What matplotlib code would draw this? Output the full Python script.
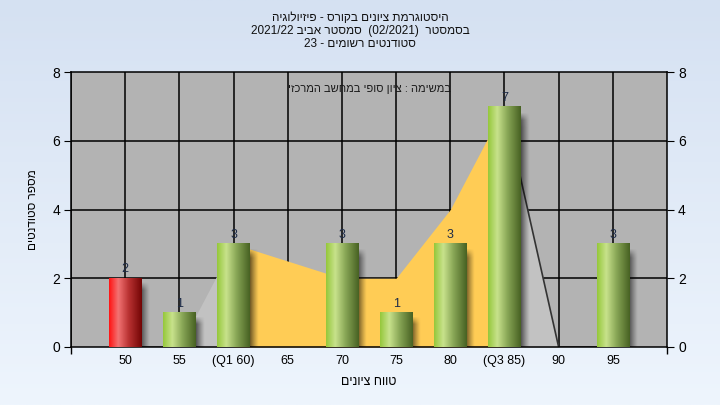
import re
import numpy as np
import matplotlib
matplotlib.use("Agg")
import matplotlib.pyplot as plt

# ---------------- data ----------------
categories = ["50", "55", "(Q1 60)", "65", "70", "75", "80", "(Q3 85)", "90", "95"]
counts = [2, 1, 3, 0, 3, 1, 3, 7, 0, 3]
curve = [0, 0, 3, 2.5, 2, 2, 4, 7, 0, 0]          # background area series
fail_flags = [True, False, False, False, False, False, False, False, False, False]
yticks = [0, 2, 4, 6, 8]

title_lines = ["היסטוגרמת ציונים בקורס - פיזיולוגיה",
               "בסמסטר  (02/2021)  סמסטר אביב 2021/22",
               "סטודנטים רשומים - 23"]
note_text = "במשימה : ציון סופי במחשב המרכזי"
xlabel_text = "טווח ציונים"
ylabel_text = "מספר סטודנטים"

FONT = ["Liberation Sans", "DejaVu Sans"]
plt.rcParams["font.family"] = FONT


def vis(s):
    """simple visual-order conversion for RTL text"""
    r = s[::-1]
    r = re.sub(r"[0-9A-Za-z/.:]+", lambda m: m.group(0)[::-1], r)
    r = r.translate(str.maketrans("()", ")("))
    return r


W, H = 720, 405
fig = plt.figure(figsize=(W / 100, H / 100), dpi=100)

# figure background gradient
bg = fig.add_axes([0, 0, 1, 1], zorder=-10)
top = np.array([213, 225, 242]) / 255
bot = np.array([238, 245, 253]) / 255
t = np.linspace(0, 1, 256)[:, None]
grad = top[None, :] * (1 - t) + bot[None, :] * t
bg.imshow(grad[:, None, :].repeat(2, axis=1), aspect="auto", extent=(0, 1, 0, 1))
bg.set_axis_off()

ax = fig.add_axes([71 / W, 1 - 347 / H, (667 - 71) / W, (347 - 72) / H])
ax.set_facecolor("#b3b3b3")
n = len(categories)
x = np.arange(n)

# grid
for gx in range(-1, n):
    ax.axvline(gx, color="black", lw=1.1, zorder=0.5)
for gy in yticks[1:-1]:
    ax.axhline(gy, color="black", lw=1.1, zorder=0.5)

# background area
cv = np.array(curve, dtype=float)
ax.fill_between(x[1:3], cv[1:3], 0, color="#c2c2c2", lw=0, zorder=1)
ax.fill_between(x[2:8], cv[2:8], 0, color="#ffcc55", lw=0, zorder=1)
ax.fill_between(x[7:9], cv[7:9], 0, color="#c2c2c2", lw=0, zorder=1)
ax.plot(x[7:10], cv[7:10], color="#333333", lw=1.2, zorder=1.5)
ax.plot(x[0:2], cv[0:2], color="#555555", lw=1.2, zorder=1.5)

# bars with gradients and shadows
w = 0.6
stops = np.array([0, 0.28, 0.6, 1.0])
green = np.array([[150, 200, 60], [200, 226, 140], [135, 165, 85], [72, 98, 35]]) / 255
red = np.array([[255, 20, 20], [242, 115, 115], [185, 50, 50], [115, 5, 5]]) / 255
u = np.linspace(0, 1, 64)


def gradient(cols):
    return np.stack([np.interp(u, stops, cols[:, k]) for k in range(3)], axis=-1)[None, :, :]


ggrad = gradient(green)
rgrad = gradient(red)

for xi, h, bad in zip(x, counts, fail_flags):
    if h <= 0:
        continue
    # shadow
    sw = 0.16
    su = np.linspace(0, 1, 32)
    sv = np.linspace(0, 1, 32)[:, None]
    vfade = np.clip(sv / max(0.001, 0.25 / h), 0, 1)
    alpha = 0.65 * (1 - su[None, :]) ** 1.2 * vfade
    sh = np.zeros((32, 32, 4))
    sh[..., 3] = alpha
    ax.imshow(sh, extent=(xi + w / 2 - 0.02, xi + w / 2 + sw, 0, h - 0.1), aspect="auto",
              zorder=2, interpolation="bilinear", origin="upper")
    img = rgrad if bad else ggrad
    ax.imshow(img, extent=(xi - w / 2, xi + w / 2, 0, h), aspect="auto", zorder=3,
              interpolation="bilinear")
    ax.text(xi, h + 0.08, str(h), ha="center", va="bottom", fontsize=9,
            color="#1e2c48", zorder=4)

ax.set_xlim(-1, n)
ax.set_ylim(0, 8)
ax.set_xticks(x)
ax.set_xticklabels(categories, fontsize=9)
ax.set_xticks([-1, n], minor=True)
ax.tick_params(axis="x", which="major", length=0, pad=6)
ax.tick_params(axis="x", which="minor", length=5, direction="out", width=1)
ax.set_yticks(yticks)
ax.tick_params(axis="y", which="major", length=5, direction="out", labelsize=10,
               left=True, right=True, labelleft=True, labelright=True, pad=3)
for sp in ax.spines.values():
    sp.set_color("black")
    sp.set_linewidth(1.1)

ax.text(0.5, 0.955, vis(note_text), transform=ax.transAxes, ha="center", va="top",
        fontsize=8, color="#1a1a1a", zorder=5)

ax.set_xlabel(vis(xlabel_text), fontsize=9, labelpad=6)
fig.text(33 / W, 1 - 210 / H, vis(ylabel_text), rotation=90, ha="center", va="center",
         fontsize=8.5)

for i, line in enumerate(title_lines):
    fig.text(0.5, 1 - (18 + 13 * i) / H, vis(line), ha="center", va="center",
             fontsize=8.5, color="#111111")

fig.savefig("out.png", dpi=100)
